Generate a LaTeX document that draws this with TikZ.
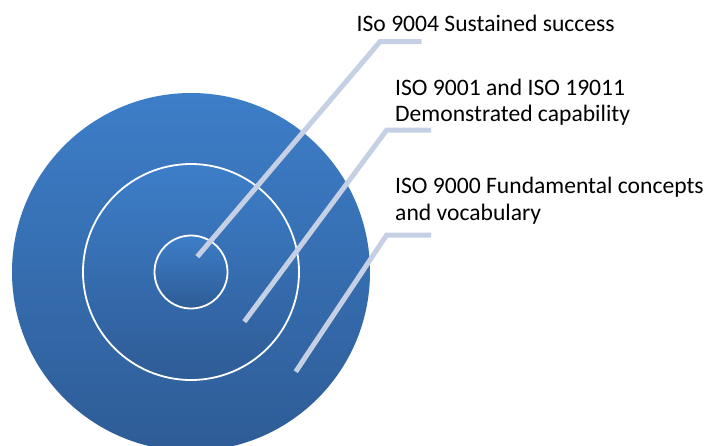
\documentclass[tikz,border=0pt]{standalone}
\usepackage{fontspec}
\setmainfont{Carlito}
\usetikzlibrary{calc}

\definecolor{ringtop}{HTML}{3D7EC9}
\definecolor{ringbot}{HTML}{2E5C96}
\definecolor{leader}{HTML}{C5D0E4}

\begin{document}
\begin{tikzpicture}[x=1pt,y=-1pt,
    ring/.style={circle,inner sep=0pt,outer sep=0pt,top color=ringtop,bottom color=ringbot},
    leaderline/.style={draw=leader,line width=5pt},
    label/.style={anchor=base west,inner sep=0pt,align=left,
        font=\fontsize{23.6}{26.7}\selectfont}]
            \useasboundingbox (0,0) rectangle (711,445);

            % the three rings of the target
            \node[ring,minimum size=358pt] (outer) at (191,272) {};
            \node[ring,minimum size=216pt,draw=white,line width=1.8pt] (middle) at (191,272) {};
            \node[ring,minimum size=73pt,draw=white,line width=1.8pt] (inner) at (191,272) {};

            % texts on the right (base = last line)
            \node[label] (t1) at (356.5,31.7) {ISo 9004 Sustained success};
            \node[label] (t2) at (395,121.7) {ISO 9001 and ISO 19011\\Demonstrated capability};
            \node[label] (t3) at (395,220) {ISO 9000 Fundamental concepts\\and vocabulary};

            % leader lines
            \coordinate (A) at (197.3,256.7);
            \coordinate (B) at (380,41.7);
            \coordinate (C) at (421.7,41.7);
            \draw[leaderline] (A) -- (B) -- (C);

            \coordinate (D) at (244.3,321.7);
            \coordinate (E) at (386.7,130);
            \coordinate (F) at (431,130);
            \draw[leaderline] (D) -- (E) -- (F);

            \coordinate (G) at (295.7,371.7);
            \coordinate (H) at (386.7,235);
            \coordinate (I) at (431,235);
            \draw[leaderline] (G) -- (H) -- (I);
        \end{tikzpicture}
\end{document}
